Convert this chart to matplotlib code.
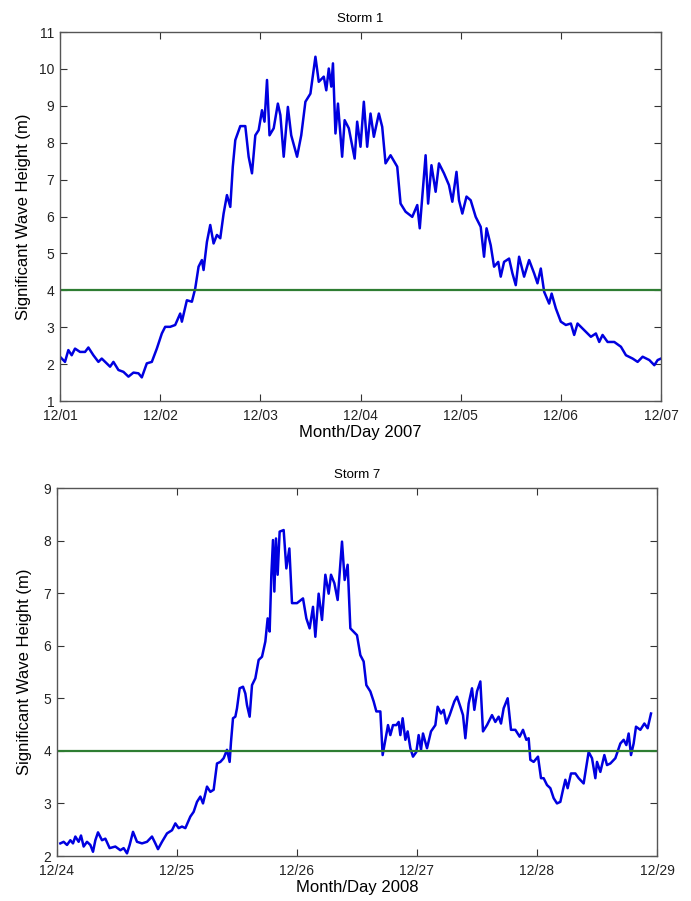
import matplotlib
matplotlib.use("Agg")
import matplotlib.pyplot as plt
import numpy as np

plt.rcParams['font.family'] = ['Liberation Sans', 'DejaVu Sans']

# ---------------- Storm 1 (hours since 12/01 00:00) ----------------
storm1_hours = [0.0, 1.2, 2.0, 2.8, 3.6, 4.8, 6.0, 6.8, 8.0, 9.2, 10.0, 11.2, 12.0, 12.8,
                14.0, 15.2, 16.4, 17.6, 18.8, 19.6, 20.8, 22.0, 23.2, 24.4, 25.2, 26.4,
                27.6, 28.8, 29.2, 30.4, 31.6, 32.4, 33.2, 34.0, 34.4, 35.2, 36.0, 36.8,
                37.6, 38.4, 39.2, 40.0, 40.8, 41.4, 42.0, 43.2, 44.4, 45.2, 46.0, 46.8,
                47.6, 48.4, 49.0, 49.6, 50.2, 51.2, 52.2, 52.8, 53.6, 54.6, 55.4, 56.8,
                57.8, 58.8, 60.0, 61.2, 62.0, 63.2, 63.8, 64.4, 65.0, 65.4, 66.0, 66.6,
                67.6, 68.2, 69.2, 70.6, 71.2, 72.0,
                72.8, 73.6, 74.4, 75.2, 76.4, 77.2, 78.0, 79.2, 80.8, 81.6, 82.8, 84.4,
                85.6, 86.2, 86.8, 87.6, 88.2, 89.0, 90.0, 90.8, 92.0, 93.2, 94.0, 95.0,
                95.6, 96.4, 97.4, 98.4, 99.6, 100.8, 101.6, 102.2, 103.2, 104.0, 105.0,
                105.6, 106.4, 107.6, 108.4, 109.2, 110.0, 111.2, 112.4, 113.6, 114.4,
                115.2, 116.0, 117.2, 117.8, 118.8, 120.0, 121.2, 122.4, 123.2, 124.0,
                125.6, 127.2, 128.4, 129.2, 130.0, 131.2, 132.8, 134.4, 135.6, 137.2,
                138.4, 139.6, 141.2, 142.4, 143.2, 144.0]
storm1_hs = [2.20, 2.06, 2.38, 2.24, 2.42, 2.33, 2.33, 2.45, 2.24, 2.06, 2.15, 2.02, 1.93, 2.06,
             1.84, 1.79, 1.66, 1.77, 1.75, 1.64, 2.02, 2.06, 2.42, 2.83, 3.01, 3.01,
             3.06, 3.37, 3.15, 3.73, 3.69, 4.05, 4.64, 4.82, 4.55, 5.31, 5.77, 5.27,
             5.50, 5.41, 6.08, 6.58, 6.26, 7.35, 8.07, 8.45, 8.45, 7.62, 7.17, 8.20,
             8.34, 8.88, 8.57, 9.70, 8.20, 8.39, 9.06, 8.75, 7.62, 8.97, 8.20, 7.62,
             8.20, 9.11, 9.33, 10.33, 9.65, 9.79, 9.42, 10.01, 9.52, 10.15, 8.25, 9.06,
             7.62, 8.61, 8.39, 7.57, 8.57, 7.89,
             9.11, 7.89, 8.79, 8.16, 8.79, 8.43, 7.44, 7.66, 7.35, 6.35, 6.13, 5.99,
             6.31, 5.68, 6.54, 7.66, 6.35, 7.39, 6.67, 7.44, 7.17, 6.85, 6.40, 7.21,
             6.44, 6.08, 6.54, 6.44, 5.99, 5.72, 4.91, 5.68, 5.22, 4.64, 4.77,
             4.37, 4.77, 4.86, 4.46, 4.14, 4.91, 4.37, 4.82, 4.46, 4.19,
             4.59, 3.96, 3.64, 3.91, 3.51, 3.15, 3.06, 3.10, 2.79, 3.10,
             2.92, 2.74, 2.83, 2.60, 2.79, 2.60, 2.60, 2.47, 2.24, 2.15,
             2.06, 2.20, 2.11, 1.97, 2.11, 2.15]

# ---------------- Storm 7 (hours since 12/24 00:00) ----------------
storm7_hours = [0.67, 1.33, 2.0, 2.67, 3.2, 3.67, 4.33, 4.8, 5.33, 6.0, 6.67, 7.2, 7.67, 8.2,
                9.0, 9.67, 10.53, 11.67, 12.67, 13.33, 14.0, 14.53, 15.2, 16.0, 17.0, 18.0,
                19.0, 19.67, 20.2, 21.0, 22.0, 23.0, 23.67, 24.33, 25.0, 25.67, 26.67,
                27.33, 28.0, 28.67, 29.2, 30.0, 30.67, 31.33, 32.0, 32.67, 33.33, 34.0,
                34.53, 34.8, 35.2, 35.67, 36.0, 36.53, 37.2, 37.67, 38.0, 38.53, 39.0,
                39.67, 40.33, 41.0, 41.67, 42.13, 42.53, 42.87, 43.2, 43.47, 43.8, 44.13,
                44.53, 45.33, 45.87, 46.47, 47.0, 48.0, 49.2, 49.87, 50.53, 51.2, 51.67,
                52.33, 53.0, 53.67, 54.33, 54.8, 55.47, 56.13, 57.0, 57.53, 58.13, 58.67,
                60.0,
                60.67, 61.33, 61.87, 62.67, 63.33, 63.87, 64.67, 65.13, 65.67, 66.2, 66.67,
                67.2, 67.87, 68.33, 68.67, 69.13, 69.67, 70.13, 70.67, 71.2, 71.87, 72.33,
                72.8, 73.2, 74.0, 74.8, 75.67, 76.13, 76.8, 77.33, 77.87, 78.53, 79.47,
                80.0, 80.67, 81.2, 81.67, 82.33, 83.0, 83.47, 84.0, 84.67, 85.2, 86.0,
                87.0, 87.67, 88.33, 88.8, 89.33, 90.13, 90.8, 91.67, 92.53, 93.2, 93.87,
                94.33, 94.67, 95.33, 96.2, 96.8, 97.33, 98.0, 98.67, 99.33, 100.0, 100.67,
                101.2, 101.67, 102.13, 102.8, 103.67, 104.33, 105.33, 106.33, 107.0,
                107.67, 108.0, 108.67, 109.47, 110.0, 110.67, 111.67, 112.67, 113.33,
                113.87, 114.33, 114.8, 115.33, 115.8, 116.67, 117.47, 118.13, 118.8]
storm7_hs = [2.24, 2.27, 2.21, 2.30, 2.24, 2.37, 2.27, 2.39, 2.18, 2.27, 2.21, 2.08, 2.30, 2.45,
             2.30, 2.33, 2.15, 2.18, 2.11, 2.15, 2.05, 2.21, 2.46, 2.27, 2.24, 2.27,
             2.37, 2.24, 2.13, 2.27, 2.43, 2.49, 2.62, 2.53, 2.56, 2.53, 2.75,
             2.84, 3.03, 3.13, 3.00, 3.32, 3.22, 3.26, 3.76, 3.79, 3.86, 4.02,
             3.79, 4.17, 4.62, 4.65, 4.81, 5.19, 5.22, 5.09, 4.87, 4.65, 5.25,
             5.38, 5.73, 5.79, 6.08, 6.52, 6.27, 7.35, 8.01, 7.03, 8.04, 7.35,
             8.17, 8.20, 7.47, 7.85, 6.81, 6.81, 6.90, 6.52, 6.33, 6.74, 6.17,
             6.99, 6.49, 7.35, 6.99, 7.35, 7.19, 6.87, 7.98, 7.25, 7.54, 6.33,
             6.20,
             5.82, 5.70, 5.25, 5.13, 4.94, 4.75, 4.75, 3.92, 4.21, 4.49, 4.30,
             4.49, 4.49, 4.55, 4.30, 4.62, 4.21, 4.37, 4.05, 3.89, 3.98, 4.30,
             4.02, 4.33, 4.05, 4.37, 4.49, 4.84, 4.71, 4.78, 4.52, 4.68, 4.94,
             5.03, 4.84, 4.68, 4.24, 4.90, 5.19, 4.78, 5.13, 5.32, 4.37, 4.49,
             4.68, 4.55, 4.65, 4.52, 4.81, 5.00, 4.40, 4.40, 4.27, 4.40, 4.21,
             4.24, 3.83, 3.79, 3.89, 3.48, 3.48, 3.35, 3.29, 3.10, 3.00, 3.03,
             3.26, 3.45, 3.29, 3.57, 3.57, 3.48, 3.38, 3.98, 3.86,
             3.48, 3.79, 3.60, 3.92, 3.73, 3.76, 3.86, 4.14, 4.21,
             4.11, 4.33, 3.92, 4.14, 4.46, 4.40, 4.52, 4.43, 4.71]

storm1_ticklabels = ['12/01', '12/02', '12/03', '12/04', '12/05', '12/06', '12/07']
storm7_ticklabels = ['12/24', '12/25', '12/26', '12/27', '12/28', '12/29']
threshold = 4

fig = plt.figure(figsize=(6.91, 9.01), dpi=100)
ax1 = fig.add_axes([60/691, 1-401/901, 601/691, 369/901])
ax2 = fig.add_axes([57/691, 1-856/901, 600/691, 368/901])

blue = '#0000e0'
green = '#2e7d32'

def style(ax):
    ax.tick_params(direction='in', top=True, right=True, length=5, width=0.8,
                   labelsize=10, colors='#333333', labelcolor='#222222')
    ax.tick_params(axis='x', pad=6)
    ax.tick_params(axis='y', pad=4)
    for s in ax.spines.values():
        s.set_color('#555555')
        s.set_linewidth(1.0)

# Top panel
d1 = np.array(storm1_hours) / 24.0
ax1.plot(d1, storm1_hs, color=blue, lw=1.8)
ax1.axhline(threshold, color=green, lw=1.6)
ax1.set_xlim(0, len(storm1_ticklabels) - 1)
ax1.set_ylim(1, 11)
ax1.set_xticks(range(len(storm1_ticklabels)))
ax1.set_xticklabels(storm1_ticklabels)
ax1.set_yticks(range(1, 12))
ax1.set_title('Storm 1', fontsize=9.5, pad=7)
ax1.set_xlabel('Month/Day 2007', fontsize=12, labelpad=1)
ax1.set_ylabel('Significant Wave Height (m)', fontsize=12, labelpad=6)
style(ax1)

# Bottom panel
d7 = np.array(storm7_hours) / 24.0
ax2.plot(d7, storm7_hs, color=blue, lw=1.8)
ax2.axhline(threshold, color=green, lw=1.6)
ax2.set_xlim(0, len(storm7_ticklabels) - 1)
ax2.set_ylim(2, 9)
ax2.set_xticks(range(len(storm7_ticklabels)))
ax2.set_xticklabels(storm7_ticklabels)
ax2.set_yticks(range(2, 10))
ax2.set_title('Storm 7', fontsize=9.5, pad=7)
ax2.set_xlabel('Month/Day 2008', fontsize=12, labelpad=1)
ax2.set_ylabel('Significant Wave Height (m)', fontsize=12, labelpad=8)
style(ax2)

fig.savefig('out.png', dpi=100, facecolor='white')
